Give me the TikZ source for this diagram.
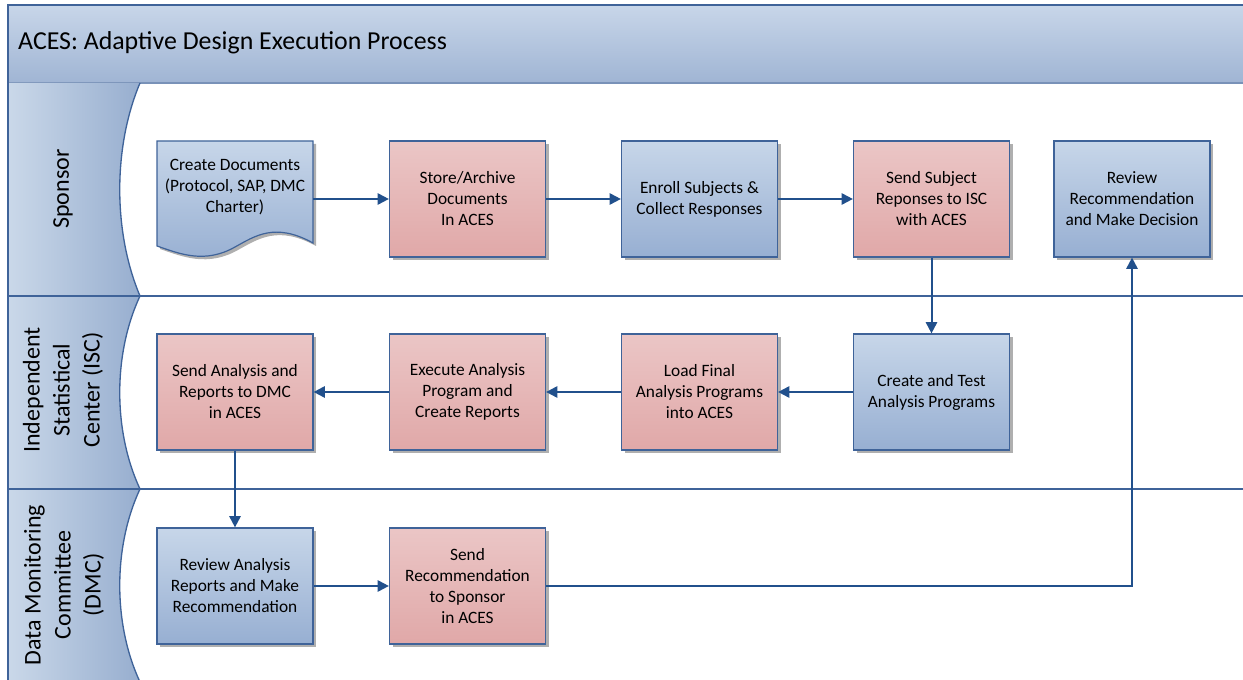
\documentclass[tikz,border=0pt]{standalone}
\usepackage{fontspec}
\setmainfont{Carlito}
\usetikzlibrary{arrows.meta,shadows}
\definecolor{bordc}{HTML}{3F6399}
\definecolor{arrc}{HTML}{21508C}
\definecolor{bluet}{HTML}{C7D6E9}
\definecolor{blueb}{HTML}{97AFD2}
\definecolor{pinkt}{HTML}{EBC6C6}
\definecolor{pinkb}{HTML}{E0A8A8}
\definecolor{lanel}{HTML}{CAD8E9}
\definecolor{laner}{HTML}{97AECF}
\definecolor{titlet}{HTML}{C8D6E9}
\definecolor{titleb}{HTML}{A0B5D4}
\tikzset{
  boxbase/.style={draw=bordc, line width=0.9pt, minimum width=117pt, minimum height=87pt,
    align=center, font=\fontsize{13}{15.75}\selectfont, inner sep=2pt,
    drop shadow={shadow xshift=2.4pt, shadow yshift=-2.4pt, fill=black!35, opacity=0.9}},
  bluebox/.style={boxbase, top color=bluet, bottom color=blueb},
  pinkbox/.style={boxbase, top color=pinkt, bottom color=pinkb},
  arr/.style={draw=arrc, line width=1.5pt, -{Triangle[length=8.5pt,width=8.5pt]}},
  lanehead/.style={left color=lanel, right color=laner},
  lanelabel/.style={rotate=90, align=center, font=\fontsize{18}{22.5}\selectfont},
  sep/.style={draw=bordc, line width=1.2pt}
}
\begin{document}
\begin{tikzpicture}[x=0.75pt,y=-0.75pt]
\useasboundingbox (0,0) rectangle (1243,680);
% title band
\shade[top color=titlet, bottom color=titleb] (8,5) rectangle (1243,82);
\draw[draw=bordc, line width=1.2pt] (1250,5) -- (8,5) -- (8,680);
\draw[draw=bordc!70, line width=1.2pt] (8,83) -- (1243,83);
\node[anchor=west, font=\fontsize{19.4}{23}\selectfont] (title) at (13.5,43) {ACES: Adaptive Design Execution Process};
% lane headers
\foreach \t/\b in {83/296, 296/489, 489/682}{
  \shade[lanehead] (8,\t) -- (140,\t) .. controls (113,{\t+0.3*(\b-\t)}) and (113,{\t+0.7*(\b-\t)}) .. (140,\b) -- (8,\b) -- cycle;
  \draw[draw=bordc, line width=1pt] (140,\t) .. controls (113,{\t+0.3*(\b-\t)}) and (113,{\t+0.7*(\b-\t)}) .. (140,\b);
}
\draw[draw=bordc, line width=1.2pt] (8,5) -- (8,680);
\draw[sep] (8,296) -- (1243,296);
\draw[sep] (8,489) -- (1243,489);
\node[lanelabel] (l1) at (63,189) {Sponsor};
\node[lanelabel] (l2) at (63,390) {Independent\\Statistical\\Center (ISC)};
\node[lanelabel] (l3) at (64,585) {Data Monitoring\\Committee\\(DMC)};
% document shape
\fill[black!35, opacity=0.9, shift={(3,3)}] (157,141) -- (313,141) -- (313,243) .. controls (275,222) and (255,236) .. (235,247) .. controls (205,264) and (180,254) .. (157,246) -- cycle;
\shade[top color=bluet, bottom color=blueb, draw=bordc, line width=0.9pt] (157,141) -- (313,141) -- (313,243) .. controls (275,222) and (255,236) .. (235,247) .. controls (205,264) and (180,254) .. (157,246) -- cycle;
\node[minimum width=117pt, minimum height=60pt, align=center, font=\fontsize{13}{15.75}\selectfont, inner sep=0pt] (doc) at (235,187) {Create Documents\\(Protocol, SAP, DMC\\Charter)};
% row 1
\node[pinkbox] (store) at (467.5,199) {Store/Archive\\Documents\\In ACES};
\node[bluebox] (enroll) at (699.5,199) {Enroll Subjects \&\\Collect Responses};
\node[pinkbox] (sendsub) at (931.5,199) {Send Subject\\Reponses to ISC\\with ACES};
\node[bluebox] (review) at (1132,199) {Review\\Recommendation\\and Make Decision};
% row 2
\node[pinkbox] (sendana) at (235,392) {Send Analysis and\\Reports to DMC\\in ACES};
\node[pinkbox] (exec) at (467.5,392) {Execute Analysis\\Program and\\Create Reports};
\node[pinkbox] (load) at (699.5,392) {Load Final\\Analysis Programs\\into ACES};
\node[bluebox] (create) at (931.5,392) {Create and Test\\Analysis Programs};
% row 3
\node[bluebox] (revana) at (235,586) {Review Analysis\\Reports and Make\\Recommendation};
\node[pinkbox] (sendrec) at (467.5,586) {Send\\Recommendation\\to Sponsor\\in ACES};
% arrows
\draw[arr] (doc.east |- store.west) -- (store.west);
\draw[arr] (store) -- (enroll);
\draw[arr] (enroll) -- (sendsub);
\draw[arr] (sendsub) -- (create);
\draw[arr] (create) -- (load);
\draw[arr] (load) -- (exec);
\draw[arr] (exec) -- (sendana);
\draw[arr] (sendana) -- (revana);
\draw[arr] (revana) -- (sendrec);
\draw[arr] (sendrec.east) -| (review.south);
\end{tikzpicture}
\end{document}
